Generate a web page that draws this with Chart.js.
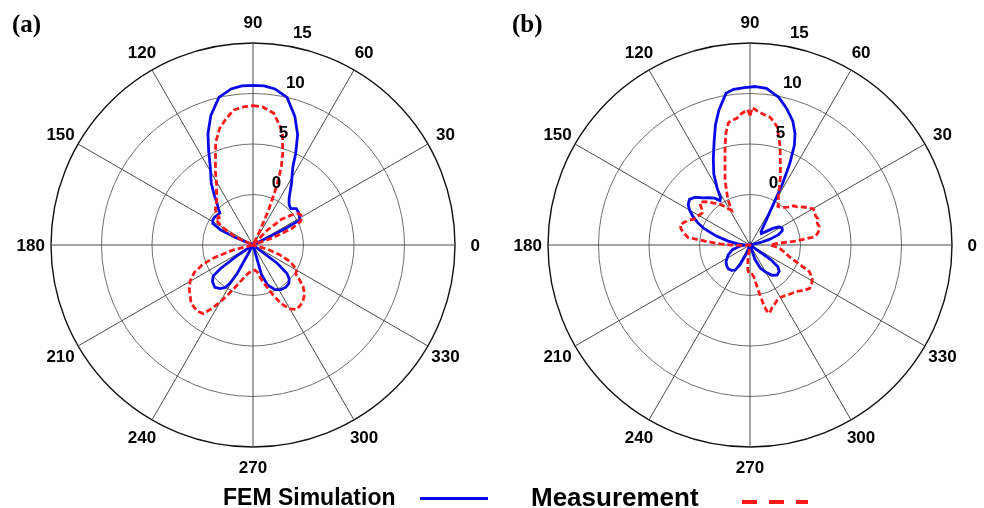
<!DOCTYPE html>
<html>
<head>
<meta charset="utf-8">
<script src="https://cdn.jsdelivr.net/npm/chart.js@4.4.1/dist/chart.umd.min.js"></script>
<style>
  html, body { margin: 0; padding: 0; background: #fff; }
  body { width: 984px; height: 508px; position: relative; overflow: hidden; font-family: "Liberation Sans", Arial, sans-serif; }
  .panel { position: absolute; width: 480px; height: 480px; top: 5px; }
  .panel canvas { display: block; }
  .tag { position: absolute; top: 11px; font-family: "Liberation Serif", "Times New Roman", serif; font-weight: bold; font-size: 25px; line-height: 25px; color: #000; z-index: 5; }
  .leg { position: absolute; font-weight: bold; color: #000; white-space: nowrap; z-index: 5; }
  .swatch { position: absolute; z-index: 5; }
</style>
</head>
<body>
<div class="tag" style="left:12px;">(a)</div>
<div class="tag" style="left:512px;">(b)</div>
<div class="panel" style="left:13px;"><canvas id="chartA" width="480" height="480"></canvas></div>
<div class="panel" style="left:510px;"><canvas id="chartB" width="480" height="480"></canvas></div>

<div class="leg" style="left:223px; top:486px; font-size:23px; line-height:23px;">FEM Simulation</div>
<div class="swatch" style="left:420px; top:497px; width:68px; height:3px; background:#0a0ae6;"></div>
<div class="leg" style="left:531px; top:484px; font-size:26px; line-height:26px;">Measurement</div>
<div class="swatch" style="left:742px; top:500px; width:66px; height:4px; background:repeating-linear-gradient(to right,#ff1a1a 0 15px,transparent 15px 27px);"></div>

<script>
// ---------- axes ----------
const ANGLE_LABELS = [0, 30, 60, 90, 120, 150, 180, 210, 240, 270, 300, 330];
const RADIAL_TICKS = [0, 5, 10, 15];
const R_MIN = -5;
const R_MAX = 15;

// ---------- panel (a) ----------
const femA_deg = [0, 20, 26, 27, 28, 32, 36, 40, 44, 48, 52, 55, 58, 61, 63, 65, 68, 72, 77, 82, 86, 90, 94, 98, 103, 108, 112, 115, 119, 124, 128, 131, 133, 136, 140, 144, 148, 152, 155, 157, 159, 180, 212, 214, 216, 218, 222, 228, 233, 237, 239, 241, 243, 260, 283, 286, 290, 296, 302, 308, 313, 317, 320, 323, 326, 340];
const femA_db  = [-5, -5, -5, -1.5, 0.3, 0.4, 0.55, 0.6, 0.2, 0.35, 0.8, 1.4, 2.2, 3.0, 3.7, 5.0, 6.8, 8.4, 10.0, 10.6, 10.8, 10.8, 10.8, 10.6, 10.0, 8.5, 6.9, 5.4, 3.7, 2.4, 1.2, 0.4, 0.1, -0.45, -0.4, -0.3, -0.3, -0.5, -1.5, -3.0, -5, -5, -5, -3.0, -1.0, 0.0, 0.4, 0.65, 0.4, 0.0, -0.6, -1.8, -5, -5, -5, -2.0, -0.8, -0.1, 0.2, 0.3, 0.2, -0.1, -0.6, -2.0, -5, -5];

const measA_deg = [0, 18, 20, 23, 26, 29, 32, 35, 38, 42, 46, 49, 62, 64, 66, 68, 70, 72, 75, 77, 81, 86, 90, 94, 98, 102, 106, 110, 113, 117, 121, 125, 129, 133, 137, 141, 146, 150, 155, 159, 190, 194, 198, 201, 205, 210, 215, 219, 223, 227, 231, 234, 237, 240, 243, 246, 250, 255, 261, 268, 274, 279, 283, 288, 292, 296, 300, 304, 308, 312, 316, 320, 323, 326, 330, 333, 336, 340, 344, 348];
const measA_db  = [-5, -5, -3.0, -0.8, 0.2, 0.55, 0.6, 0.45, -0.2, -1.2, -3.0, -5, -5, -3.5, -1.2, 1.2, 3.2, 4.5, 6.3, 7.0, 8.2, 8.7, 8.8, 8.7, 8.5, 7.8, 7.0, 5.8, 4.5, 3.2, 2.0, 1.3, 0.7, 0.4, 0.1, -0.7, -0.5, -1.6, -3.0, -5, -5, -3.0, -1.0, 0.3, 1.4, 2.2, 2.7, 3.0, 3.4, 3.5, 3.5, 3.4, 2.5, 1.5, 0.6, -0.2, -1.0, -1.7, -2.2, -2.4, -2.5, -2.3, -1.6, -0.7, 0.4, 1.5, 2.3, 2.7, 2.6, 2.4, 2.1, 1.5, 0.8, 0.1, 0.0, -0.5, -1.0, -2.2, -3.5, -5];

// ---------- panel (b) ----------
const femB_deg = [0, 10, 13, 16, 20, 24, 28, 32, 36, 40, 45, 50, 54, 57, 59, 61, 62, 64, 66, 68, 71, 75, 79, 84, 88, 92, 96, 99, 103, 106, 109, 113, 117, 120, 122, 124, 127, 131, 135, 139, 143, 147, 150, 153, 157, 160, 165, 170, 175, 180, 186, 195, 205, 215, 222, 228, 234, 239, 243, 247, 250, 285, 289, 294, 300, 306, 312, 318, 322, 325, 328];
const femB_db  = [-5, -5, -4.0, -3.0, -2.0, -1.5, -1.4, -1.6, -2.2, -2.9, -3.4, -3.3, -2.8, -2.0, -1.2, 0.5, 1.8, 4.0, 5.8, 6.9, 8.0, 9.0, 9.9, 10.6, 10.7, 10.6, 10.5, 10.2, 8.7, 7.4, 5.9, 4.3, 2.9, 1.5, 0.5, 0.3, 0.8, 1.2, 1.6, 2.2, 2.5, 2.3, 1.9, 1.4, 0.6, -0.1, -1.5, -2.8, -3.8, -4.5, -4.0, -3.2, -2.6, -2.1, -1.9, -1.8, -1.9, -2.1, -2.8, -4.0, -5, -5, -3.5, -2.5, -1.9, -1.3, -1.0, -1.1, -1.5, -2.5, -5];

const measB_deg = [0, 3, 5, 7, 9, 12, 15, 18, 21, 24, 27, 30, 33, 36, 39, 42, 45, 48, 51, 54, 57, 60, 63, 66, 69, 71, 73, 75, 77, 79, 81, 84, 87, 89, 90, 91, 94, 96, 98, 100, 102, 104, 106, 108, 111, 113, 116, 118, 121, 125, 128, 131, 134, 137, 140, 143, 146, 149, 152, 155, 158, 161, 164, 167, 170, 173, 175, 178, 181, 184, 188, 258, 262, 265, 268, 271, 274, 277, 280, 283, 285, 287, 289, 292, 296, 300, 305, 310, 315, 320, 324, 328, 332, 336, 338, 342, 346, 349, 352, 355, 358];
const measB_db  = [-3.0, -2.4, -0.5, 1.2, 1.7, 2.0, 2.1, 2.0, 2.2, 2.1, 2.2, 2.2, 1.8, 1.4, 1.0, 0.8, 0.3, 0.0, -0.2, -0.3, 0.2, 0.6, 1.4, 2.4, 3.4, 4.2, 5.2, 6.0, 7.0, 7.4, 7.8, 8.0, 8.3, 8.6, 7.8, 8.4, 8.0, 7.6, 7.5, 7.3, 6.4, 5.2, 4.0, 3.0, 1.9, 1.0, 0.0, -1.1, -0.8, -0.2, 0.2, 0.5, 0.9, 1.3, 1.5, 1.0, 0.7, 0.8, 1.0, 1.1, 1.5, 1.9, 2.2, 2.0, 1.6, 1.2, -0.5, -2.0, -3.5, -4.5, -5, -5, -3.5, -2.5, -2.2, -2.1, -2.1, -1.8, -0.6, 1.2, 2.0, 1.9, 1.6, 1.4, 1.1, 1.0, 1.1, 1.3, 1.5, 2.0, 2.3, 2.2, 2.0, 1.4, 0.5, -0.7, -1.3, -1.6, -1.9, -2.2, -2.8];

// ---------- helpers ----------
const ANGLE_CATS = Array.from({ length: 360 }, (_, i) => String(((90 - i) % 360 + 360) % 360));

function toRadar(deg, db) {
  const arr = new Array(360).fill(null);
  deg.forEach((d, k) => {
    const idx = ((90 - d) % 360 + 360) % 360;
    arr[idx] = db[k];
  });
  return arr;
}

const polarText = {
  id: 'polarText',
  afterDraw(chart) {
    const s = chart.scales.r;
    const ctx = chart.ctx;
    ctx.save();
    ctx.fillStyle = '#000';
    ctx.font = 'bold 17px "Liberation Sans", Arial, sans-serif';
    ctx.textAlign = 'center';
    ctx.textBaseline = 'middle';
    const R = s.drawingArea * 1.1;
    ANGLE_LABELS.forEach(a => {
      const t = a * Math.PI / 180;
      ctx.fillText(String(a), s.xCenter + R * Math.cos(t), s.yCenter - R * Math.sin(t) + 1);
    });
    ctx.textAlign = 'left';
    ctx.textBaseline = 'bottom';
    const t82 = 82 * Math.PI / 180;
    RADIAL_TICKS.forEach(v => {
      const d = s.getDistanceFromCenterForValue(v) + s.drawingArea / 80;
      ctx.fillText('  ' + v, s.xCenter + d * Math.cos(t82) + 2, s.yCenter - d * Math.sin(t82) - 1);
    });
    ctx.restore();
  }
};

function makeChart(id, fem, meas) {
  return new Chart(document.getElementById(id), {
    type: 'radar',
    data: {
      labels: ANGLE_CATS,
      datasets: [
        { label: 'Measurement', data: meas, borderColor: '#ff1a1a', borderWidth: 2.8, borderDash: [6, 3], fill: false, spanGaps: true, pointRadius: 0, tension: 0 },
        { label: 'FEM Simulation', data: fem, borderColor: '#0a0ae6', borderWidth: 2.8, fill: false, spanGaps: true, pointRadius: 0, tension: 0 }
      ]
    },
    options: {
      responsive: false,
      animation: false,
      events: [],
      layout: { padding: 38 },
      plugins: { legend: { display: false }, tooltip: { enabled: false } },
      elements: { point: { radius: 0 }, line: { tension: 0 } },
      scales: {
        r: {
          min: R_MIN, max: R_MAX, beginAtZero: false, startAngle: 0,
          ticks: { display: false, stepSize: 5 },
          pointLabels: { display: false },
          grid: {
            circular: true,
            color: c => (c.tick && c.tick.value === R_MAX) ? '#111' : '#6e6e6e',
            lineWidth: c => (c.tick && c.tick.value === R_MAX) ? 1.4 : 1
          },
          angleLines: {
            color: c => (c.index % 30 === 0) ? '#4a4a4a' : 'rgba(0,0,0,0)',
            lineWidth: c => (c.index % 30 === 0) ? 1 : 0
          }
        }
      }
    },
    plugins: [polarText]
  });
}

makeChart('chartA', toRadar(femA_deg, femA_db), toRadar(measA_deg, measA_db));
makeChart('chartB', toRadar(femB_deg, femB_db), toRadar(measB_deg, measB_db));
</script>
</body>
</html>
